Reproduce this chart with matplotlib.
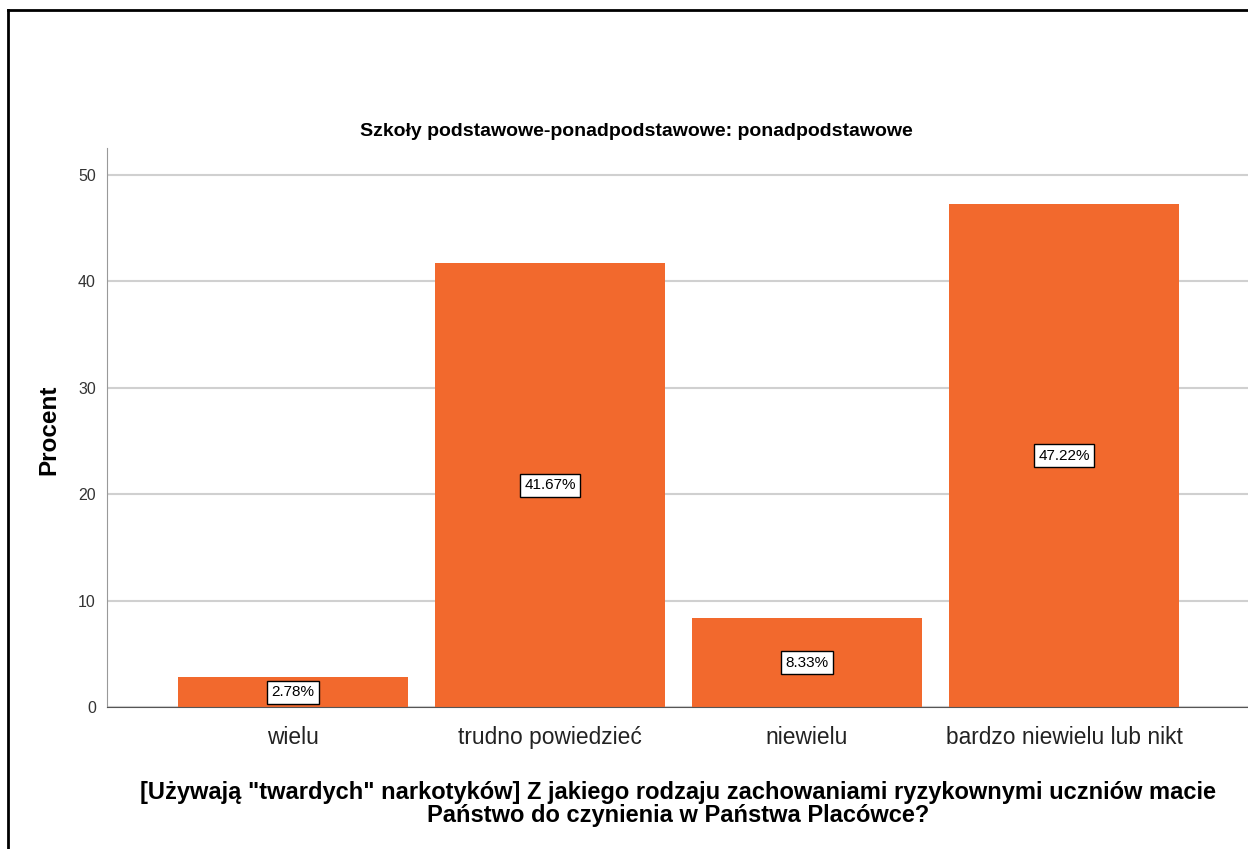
import matplotlib.pyplot as plt
from matplotlib.lines import Line2D

categories = ["wielu", "trudno powiedzieć", "niewielu", "bardzo niewielu lub nikt"]
percent = [2.78, 41.67, 8.33, 47.22]
bar_labels = ["2.78%", "41.67%", "8.33%", "47.22%"]

title = "Szkoły podstawowe-ponadpodstawowe: ponadpodstawowe"
x_title = ('[Używają "twardych" narkotyków] Z jakiego rodzaju zachowaniami ryzykownymi uczniów macie\n'
           "Państwo do czynienia w Państwa Placówce?")

plt.rcParams["font.family"] = ["Liberation Sans", "DejaVu Sans"]

W, H = 1248, 849
fig = plt.figure(figsize=(W / 100, H / 100), dpi=100)
ax = fig.add_axes([107 / W, 1 - 707 / H, (W - 107) / W, (707 - 148) / H])

x = list(range(len(categories)))
ax.bar(x, percent, width=0.895, color="#F2692D", zorder=2)

for xi, val, lab in zip(x, percent, bar_labels):
    ax.text(xi, val / 2, lab, ha="center", va="center", fontsize=11, zorder=4,
            bbox=dict(boxstyle="square,pad=0.3", fc="white", ec="black", lw=1))

ax.set_xlim(-0.724, 3.716)
ax.set_ylim(0, 52.5)
ax.set_yticks([0, 10, 20, 30, 40, 50])
ax.yaxis.grid(True, color="#d0d0d0", lw=1.5, zorder=0)
ax.set_axisbelow(True)

ax.set_xticks(x)
ax.set_xticklabels(categories, fontsize=16.4, color="#222222")
ax.tick_params(axis="x", length=0, pad=14)
ax.tick_params(axis="y", length=0, pad=8, labelsize=11.5, colors="#333333")

for side in ["top", "right"]:
    ax.spines[side].set_visible(False)
ax.spines["left"].set_color("#999999")
ax.spines["bottom"].set_color("#555555")

ax.set_ylabel("Procent", fontsize=17.5, fontweight="bold")
ax.yaxis.set_label_coords((60 - 107) / (W - 107), (707 - 430) / (707 - 148))
ax.set_xlabel(x_title, fontsize=17, fontweight="bold", linespacing=1.0)
ax.xaxis.set_label_coords((678 - 107) / (W - 107), -(804 - 707) / (707 - 148))
ax.xaxis.label.set_va("center")

fig.text(636 / W, 1 - 131 / H, title, ha="center", va="center", fontsize=14, fontweight="bold")

# screenshot frame
fig.add_artist(Line2D([8 / W, 8 / W], [0, 1 - 10 / H], color="black", lw=2, transform=fig.transFigure))
fig.add_artist(Line2D([8 / W, 1], [1 - 10 / H, 1 - 10 / H], color="black", lw=2, transform=fig.transFigure))

fig.savefig("out.png", dpi=100)
